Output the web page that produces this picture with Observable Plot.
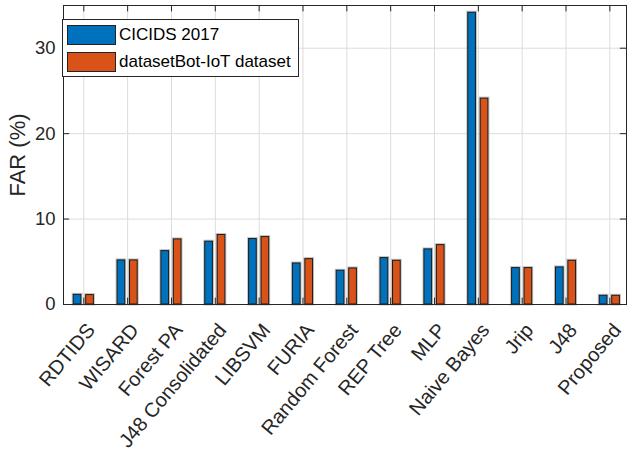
<!DOCTYPE html>
<html>
<head>
<meta charset="utf-8">
<script src="https://cdn.jsdelivr.net/npm/d3@7"></script>
<script src="https://cdn.jsdelivr.net/npm/@observablehq/plot@0.6"></script>
<style>
  html, body { margin: 0; padding: 0; background: #fff; }
  #wrap { position: relative; width: 627px; height: 450px; font-family: "Liberation Sans", Arial, sans-serif; }
  #legend { position: absolute; left: 62px; top: 19px; width: 237px; height: 58px; border: 1px solid #262626; background: #fff; box-sizing: border-box; }
  .item { position: absolute; left: 4px; height: 20px; display: flex; align-items: center; font-size: 17px; color: #000; white-space: nowrap; }
  .sw { width: 49px; height: 20px; border: 1px solid #222; box-sizing: border-box; margin-right: 3px; }
</style>
</head>
<body>
<div id="wrap"></div>
<script>
const categories = ["RDTIDS","WISARD","Forest PA","J48 Consolidated","LIBSVM","FURIA","Random Forest","REP Tree","MLP","Naive Bayes","Jrip","J48","Proposed"];
const seriesNames = ["CICIDS 2017","datasetBot-IoT dataset"];
const cicids = [1.13,5.16,6.25,7.35,7.66,4.80,3.95,5.43,6.45,34.15,4.26,4.34,1.02];
const botiot = [1.10,5.16,7.62,8.13,7.89,5.31,4.22,5.12,6.95,24.10,4.26,5.12,1.02];
const yTicks = [0,10,20,30];
const colors = ["#0072BD","#D95319"];

const xDomain = [0.537, 13.38];
const yDomain = [0, 35];
const barOffset = [-0.142, 0.142];
const barW = 0.175;

const rows = [];
categories.forEach((c, i) => {
  [cicids, botiot].forEach((arr, s) => {
    rows.push({cat: c, i: i + 1, s, series: seriesNames[s], value: arr[i]});
  });
});
const idx = categories.map((c, i) => i + 1);

const xt = 0.14;   // inner tick length along x (data units)
const yt = 0.75;   // inner tick length along y (data units)

const chart = Plot.plot({
  width: 627,
  height: 450,
  marginLeft: 63,
  marginRight: 1,
  marginTop: 5,
  marginBottom: 146,
  style: {fontFamily: "'Liberation Sans', Arial, sans-serif", fontSize: "18px", background: "#fff", color: "#262626", overflow: "visible"},
  x: {domain: xDomain},
  y: {domain: yDomain},
  marks: [
    Plot.ruleY(yTicks.slice(1), {stroke: "#dcdcdc", strokeWidth: 1}),
    Plot.ruleX(idx, {stroke: "#dcdcdc", strokeWidth: 1}),
    Plot.rectY(rows, {
      x1: d => d.i + barOffset[d.s] - barW / 2,
      x2: d => d.i + barOffset[d.s] + barW / 2,
      y1: 0, y2: "value",
      fill: "none", stroke: "#9a9a9a", strokeWidth: 3, strokeOpacity: 0.6
    }),
    Plot.rectY(rows, {
      x1: d => d.i + barOffset[d.s] - barW / 2,
      x2: d => d.i + barOffset[d.s] + barW / 2,
      y1: 0, y2: "value",
      fill: d => colors[d.s], stroke: "#1a1a1a", strokeWidth: 1
    }),
    // inner ticks
    Plot.ruleX(idx, {y1: 0, y2: yt, stroke: "#262626", strokeWidth: 1}),
    Plot.ruleX(idx, {y1: yDomain[1], y2: yDomain[1] - yt, stroke: "#262626", strokeWidth: 1}),
    Plot.ruleY(yTicks, {x1: xDomain[0], x2: xDomain[0] + xt, stroke: "#262626", strokeWidth: 1}),
    Plot.ruleY(yTicks, {x1: xDomain[1], x2: xDomain[1] - xt, stroke: "#262626", strokeWidth: 1}),
    Plot.frame({stroke: "#262626", strokeWidth: 1}),
    Plot.axisY(yTicks, {tickSize: 0, tickPadding: 8, fontSize: 18.5, label: null, fill: "#262626"}),
    Plot.axisX(idx, {tickSize: 0, tickPadding: 6, tickRotate: -50, fontSize: 20, label: null, dx: 7.3, dy: 16,
      tickFormat: d => categories[d - 1], fill: "#262626"}),
    Plot.text(["FAR (%)"], {frameAnchor: "left", textAnchor: "middle", dx: -45.5, rotate: -90, fontSize: 22, fill: "#262626"})
  ]
});

const wrap = document.getElementById("wrap");
wrap.appendChild(chart);
const legend = document.createElement("div");
legend.id = "legend";
seriesNames.forEach((n, s) => {
  const it = document.createElement("div");
  it.className = "item";
  it.style.top = (s === 0 ? 5 : 32) + "px";
  const sw = document.createElement("div");
  sw.className = "sw";
  sw.style.background = colors[s];
  it.appendChild(sw);
  const t = document.createElement("span");
  t.textContent = n;
  it.appendChild(t);
  legend.appendChild(it);
});
wrap.appendChild(legend);
</script>
</body>
</html>
